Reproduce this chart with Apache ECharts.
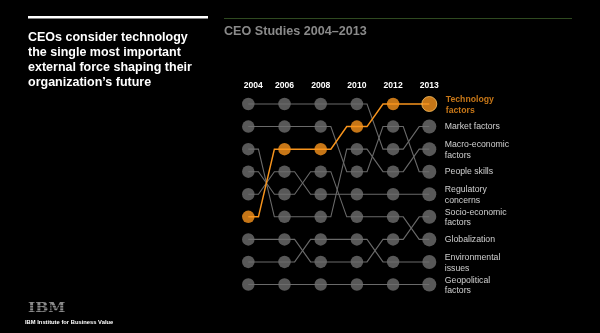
<!DOCTYPE html>
<html>
<head>
<meta charset="utf-8">
<style>
  html, body { margin: 0; padding: 0; background: #000; }
  #chart { width: 600px; height: 333px; }
</style>
<script src="https://cdn.jsdelivr.net/npm/echarts@6/dist/echarts.min.js"></script>
</head>
<body>
<div id="chart"></div>
<script>
// Survey years (columns) and the external forces ranked by CEOs
var years = ['2004', '2006', '2008', '2010', '2012', '2013'];
var factorNames = [
  'Technology\nfactors',
  'Market factors',
  'Macro-economic\nfactors',
  'People skills',
  'Regulatory\nconcerns',
  'Socio-economic\nfactors',
  'Globalization',
  'Environmental\nissues',
  'Geopolitical\nfactors'
];

// Rank of each force per survey year (1 = most important)
var technology    = [6, 3, 3, 2, 1, 1];
var market        = [1, 1, 1, 1, 3, 2];
var macroEconomic = [3, 6, 6, 3, 4, 3];
var peopleSkills  = [2, 2, 2, 4, 2, 4];
var regulatory    = [5, 4, 5, 5, 5, 5];
var socioEconomic = [7, 7, 8, 8, 7, 6];
var globalization = [4, 5, 4, 6, 6, 7];
var environmental = [8, 8, 7, 7, 8, 8];
var geopolitical  = [9, 9, 9, 9, 9, 9];

var rankings = [technology, market, macroEconomic, peopleSkills, regulatory,
                socioEconomic, globalization, environmental, geopolitical];

var FONT = '"Liberation Sans", Arial, Helvetica, sans-serif';
var GREY = '#6e6e6e';
var ORANGE = '#f7941d';

// Bump path: flat run out of each dot, slanted change of rank, flat run into the next dot
function bumpPath(ranks, color, width) {
  return function (params, api) {
    var pts = [];
    for (var i = 0; i < ranks.length; i++) {
      var p = api.coord([i, ranks[i]]);
      if (i > 0) {
        var prev = api.coord([i - 1, ranks[i - 1]]);
        var dx = p[0] - prev[0];
        pts.push([prev[0] + dx * 0.28, prev[1]]);
        pts.push([prev[0] + dx * 0.72, p[1]]);
      }
      pts.push(p);
    }
    return {
      type: 'polyline',
      shape: { points: pts },
      style: { stroke: color, lineWidth: width, fill: null }
    };
  };
}

var series = [];
rankings.forEach(function (ranks, k) {
  var hot = k === 0;
  series.push({
    type: 'custom',
    clip: false,
    silent: true,
    z: hot ? 2 : 1,
    data: [[0, ranks[0]]],
    renderItem: bumpPath(ranks, hot ? ORANGE : '#6a6a6a', hot ? 1.5 : 1.1)
  });
  series.push({
    type: 'scatter',
    z: hot ? 4 : 3,
    silent: true,
    symbol: 'circle',
    symbolSize: function (val) { return val[0] === years.length - 1 ? (hot ? 15 : 14) : 12.5; },
    itemStyle: { color: hot ? ORANGE : GREY },
    data: ranks.map(function (r, i) {
      var item = { value: [i, r] };
      if (i === ranks.length - 1) {
        item.label = {
          show: true,
          position: 'right',
          distance: 8.5,
          formatter: factorNames[k],
          color: hot ? ORANGE : '#ffffff',
          fontWeight: hot ? 'bold' : 'normal',
          fontFamily: FONT,
          fontSize: 8.7,
          lineHeight: 10.5,
          offset: [0, factorNames[k].indexOf('\n') >= 0 ? 1 : 0]
        };
        if (hot) {
          item.itemStyle = { color: ORANGE, borderColor: '#ffc25e', borderWidth: 1 };
        }
      }
      return item;
    })
  });
});

var chart = echarts.init(document.getElementById('chart'), null, { renderer: 'canvas' });
chart.setOption({
  backgroundColor: '#000000',
  animation: false,
  grid: { left: 248.3, right: 170.7, top: 104, bottom: 48.5 },
  xAxis: {
    type: 'value',
    position: 'top',
    min: 0,
    max: years.length - 1,
    interval: 1,
    axisLine: { show: false },
    axisTick: { show: false },
    splitLine: { show: false },
    axisLabel: {
      showMinLabel: true,
      showMaxLabel: true,
      margin: 14,
      color: '#ffffff',
      fontWeight: 'bold',
      fontFamily: FONT,
      fontSize: 8.6,
      formatter: function (v) { return v === 0 ? '{first|' + years[v] + '}' : years[v]; },
      rich: {
        first: { color: '#ffffff', fontWeight: 'bold', fontFamily: FONT, fontSize: 8.6, padding: [0, 0, 0, 10] }
      }
    }
  },
  yAxis: { type: 'value', inverse: true, min: 1, max: 9, show: false },
  series: series,
  graphic: [
    { type: 'rect', shape: { x: 28, y: 16, width: 180, height: 2.5 }, style: { fill: '#ffffff' } },
    {
      type: 'text', left: 28, top: 30,
      style: {
        text: 'CEOs consider technology\nthe single most important\nexternal force shaping their\norganization\u2019s future',
        fill: '#ffffff', font: 'bold 12.5px ' + FONT, lineHeight: 14.9
      }
    },
    { type: 'rect', shape: { x: 224, y: 18, width: 348, height: 1 }, style: { fill: '#2f4a20' } },
    {
      type: 'text', left: 224, top: 25.5,
      style: { text: 'CEO Studies 2004\u20132013', fill: '#8a8a8a', font: 'bold 12.6px ' + FONT }
    },
    {
      type: 'group', left: 28, top: 301,
      children: [
        {
          type: 'text', x: 0, y: 0, scaleX: 1.12,
          style: { text: 'IBM', fill: '#8c8c8c', font: 'bold 13.8px "DejaVu Serif", "Liberation Serif", serif' }
        },
        { type: 'rect', shape: { x: 0, y: 4.2, width: 36, height: 0.8 }, style: { fill: '#000', opacity: 0.7 } },
        { type: 'rect', shape: { x: 0, y: 6.6, width: 36, height: 0.8 }, style: { fill: '#000', opacity: 0.7 } },
        { type: 'rect', shape: { x: 0, y: 9.0, width: 36, height: 0.8 }, style: { fill: '#000', opacity: 0.7 } },
        { type: 'rect', shape: { x: 0, y: 11.4, width: 36, height: 0.8 }, style: { fill: '#000', opacity: 0.7 } }
      ]
    },
    {
      type: 'text', left: 25, top: 319.5,
      style: { text: 'IBM Institute for Business Value', fill: '#ffffff', font: 'bold 5.8px ' + FONT }
    }
  ]
});
</script>
</body>
</html>
